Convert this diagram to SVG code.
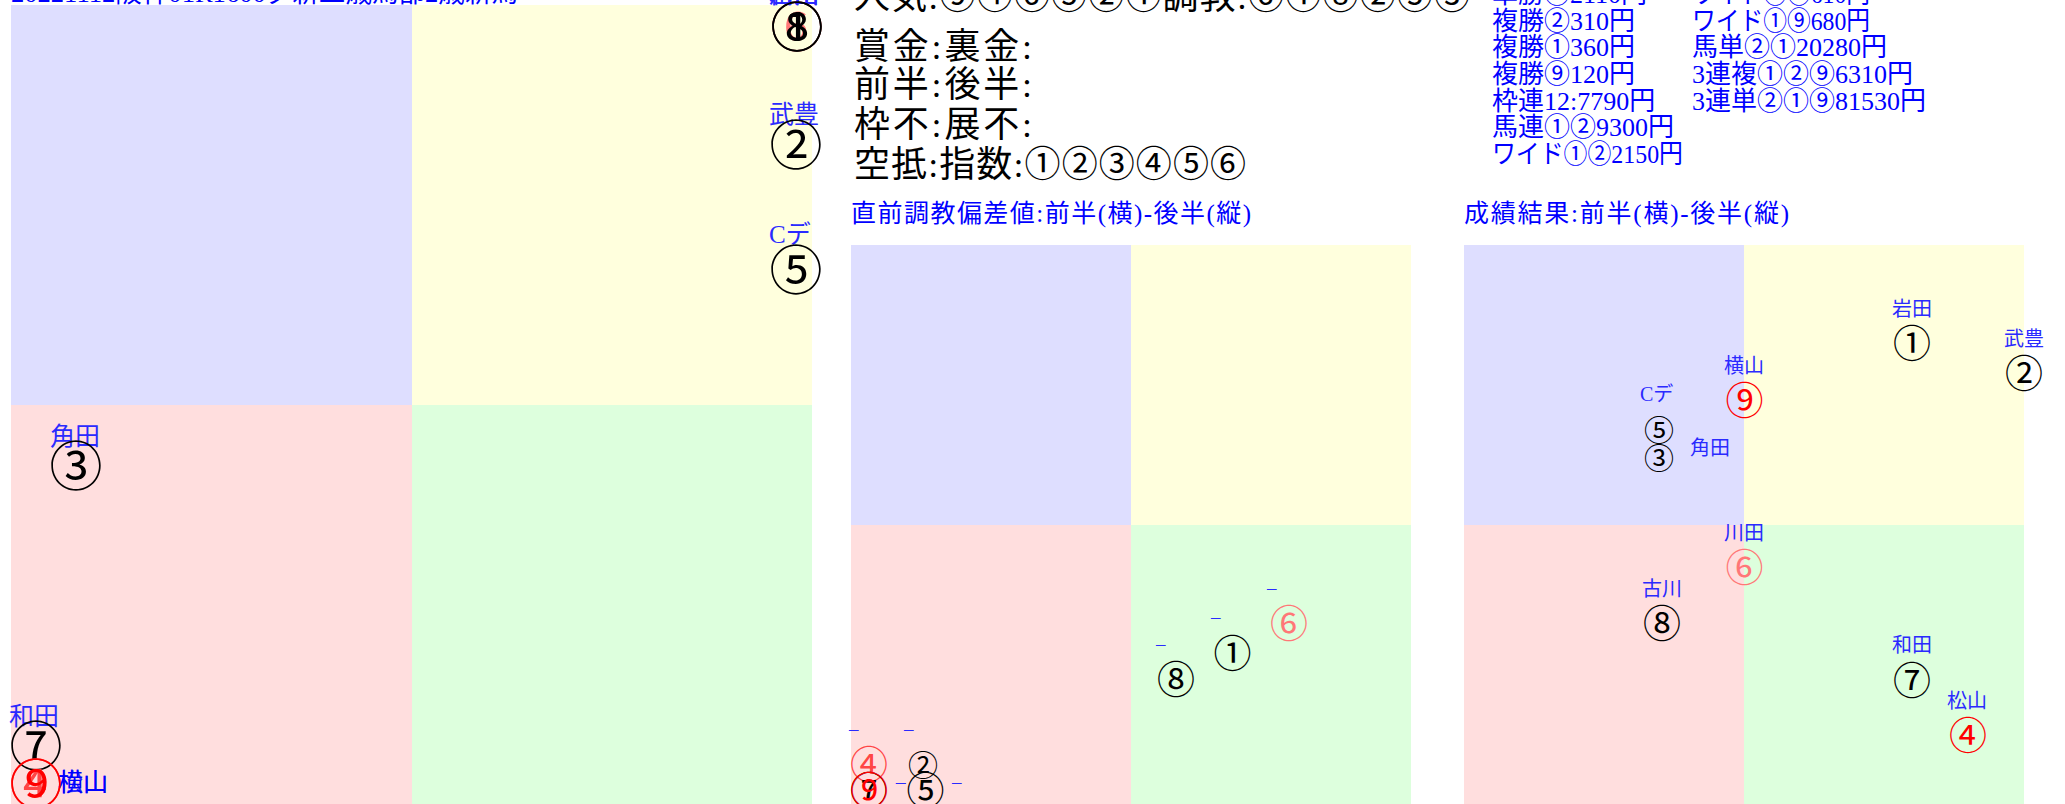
<svg xmlns="http://www.w3.org/2000/svg" width="2065" height="804" viewBox="0 0 2065 804">
<style>
.q1{fill:#dedeff}.q2{fill:#ffffdd}.q3{fill:#ffdede}.q4{fill:#ddffdd}
.t{font-family:"Liberation Serif","Noto Sans CJK JP",serif;fill:#0000ff}
.h{font-family:"Liberation Serif","Noto Sans CJK JP",serif;fill:#000;font-size:36px}
.n{font-family:"Noto Sans CJK JP",sans-serif;text-anchor:middle}
.big{font-size:53px}.mid{font-size:38px}.sm{font-size:30px}
.blk{fill:#000}.red{fill:#ff0000}.pk{fill:#ff4545}.sal{fill:#ff7777}
.lb{font-family:"Liberation Serif","Noto Sans CJK JP",serif;fill:#2a2aff}
.l25{font-size:25px}.l20{font-size:20px}.d{font-size:19px}
</style>
<rect width="2065" height="804" fill="#fff"/>
<g id="chart-left">
<rect class="q1" x="11" y="5" width="401" height="400"/>
<rect class="q2" x="412" y="5" width="400" height="400"/>
<rect class="q3" x="11" y="405" width="401" height="400"/>
<rect class="q4" x="412" y="405" width="400" height="400"/>
</g>
<g id="chart-mid">
<rect class="q1" x="851" y="245" width="280" height="280"/>
<rect class="q2" x="1131" y="245" width="280" height="280"/>
<rect class="q3" x="851" y="525" width="280" height="280"/>
<rect class="q4" x="1131" y="525" width="280" height="280"/>
</g>
<g id="chart-right">
<rect class="q1" x="1464" y="245" width="280" height="280"/>
<rect class="q2" x="1744" y="245" width="280" height="280"/>
<rect class="q3" x="1464" y="525" width="280" height="280"/>
<rect class="q4" x="1744" y="525" width="280" height="280"/>
</g>
<g id="texts">
<text class="t" x="11" y="2" font-size="26" textLength="507" lengthAdjust="spacingAndGlyphs">20221112阪神01R1600ダ新二歳馬部2歳新馬</text>
<text class="h" x="854" y="9" textLength="616" lengthAdjust="spacing">人気:⑨④⑥⑤②①調教:⑥①⑧②⑤③</text>
<text class="h" x="854" y="59" textLength="178" lengthAdjust="spacing">賞金:裏金:</text>
<text class="h" x="854" y="97" textLength="178" lengthAdjust="spacing">前半:後半:</text>
<text class="h" x="854" y="137" textLength="178" lengthAdjust="spacing">枠不:展不:</text>
<text class="h" x="854" y="177" textLength="392" lengthAdjust="spacing">空抵:指数:①②③④⑤⑥</text>
<g class="t" font-size="26">
<text x="1492" y="3">単勝②2110円</text>
<text x="1492" y="29.7">複勝②310円</text>
<text x="1492" y="56.3">複勝①360円</text>
<text x="1492" y="83">複勝⑨120円</text>
<text x="1492" y="109.7">枠連12:7790円</text>
<text x="1492" y="136.3">馬連①②9300円</text>
<text x="1492" y="163" textLength="191" lengthAdjust="spacingAndGlyphs">ワイド①②2150円</text>
<text x="1692" y="3" textLength="178" lengthAdjust="spacingAndGlyphs">ワイド②⑨610円</text>
<text x="1692" y="29.7" textLength="178" lengthAdjust="spacingAndGlyphs">ワイド①⑨680円</text>
<text x="1692" y="56.3">馬単②①20280円</text>
<text x="1692" y="83">3連複①②⑨6310円</text>
<text x="1692" y="109.7">3連単②①⑨81530円</text>
</g>
<text class="t" x="851" y="222" font-size="25" textLength="400" lengthAdjust="spacing">直前調教偏差値:前半(横)-後半(縦)</text>
<text class="t" x="1464" y="222" font-size="25" textLength="325" lengthAdjust="spacing">成績結果:前半(横)-後半(縦)</text>
</g>
<g id="connectors"/>
<g id="left-nodes">
<g id="L6"><text class="lb l25" x="769" y="3">川田</text><text class="n big sal" x="797" y="47">⑥</text></g>
<g id="L1"><text class="lb l25" x="769" y="3">岩田</text><text class="n big blk" x="797" y="47">①</text></g>
<g id="L8"><text class="lb l25" x="769" y="3">古川</text><text class="n big blk" x="797" y="47">⑧</text></g>
<g id="L2"><text class="lb l25" x="769" y="123">武豊</text><text class="n big blk" x="796" y="165">②</text></g>
<g id="L5"><text class="lb l25" x="769" y="243">Cデ</text><text class="n big blk" x="796" y="290">⑤</text></g>
<g id="L3"><text class="lb l25" x="50" y="445">角田</text><text class="n big blk" x="76" y="486">③</text></g>
<g id="L7"><text class="lb l25" x="9" y="725">和田</text><text class="n big blk" x="36" y="766">⑦</text></g>
<g id="L4"><text class="lb l25" x="58" y="791">松山</text><text class="n big pk" x="36" y="804">④</text></g>
<g id="L9"><text class="lb l25" x="58" y="791" style="fill:#0000ff">横山</text><text class="n big red" x="36" y="804">⑨</text></g>
</g>
<g id="mid-nodes">
<g id="M4"><text class="lb d" x="849" y="735">–</text><text class="n mid pk" x="869" y="778">④</text></g>
<g id="M2"><text class="lb d" x="904" y="735">–</text><text class="n sm blk" x="923" y="776">②</text></g>
<g id="M7"><text class="lb d" x="896" y="788">–</text><text class="n mid blk" x="869" y="804">⑦</text></g>
<g id="M9"><text class="lb d" x="896" y="788">–</text><text class="n mid red" x="869" y="804">⑨</text></g>
<g id="M5"><text class="lb d" x="952" y="788">–</text><text class="n mid blk" x="925.5" y="804">⑤</text></g>
<g id="M8"><text class="lb d" x="1156" y="650">–</text><text class="n mid blk" x="1176" y="693">⑧</text></g>
<g id="M1"><text class="lb d" x="1211" y="623">–</text><text class="n mid blk" x="1232.5" y="667">①</text></g>
<g id="M6"><text class="lb d" x="1267" y="594">–</text><text class="n mid sal" x="1289" y="637">⑥</text></g>
</g>
<g id="right-nodes">
<g id="R1"><text class="lb l20" x="1892" y="316">岩田</text><text class="n mid blk" x="1912" y="357">①</text></g>
<g id="R2"><text class="lb l20" x="2004" y="346">武豊</text><text class="n mid blk" x="2024" y="387">②</text></g>
<g id="R9"><text class="lb l20" x="1724" y="373">横山</text><text class="n mid red" x="1744.5" y="414">⑨</text></g>
<g id="R5"><text class="lb l20" x="1640" y="401">Cデ</text><text class="n sm blk" x="1659" y="441">⑤</text></g>
<g id="R3"><text class="lb l20" x="1690" y="455">角田</text><text class="n sm blk" x="1659" y="469">③</text></g>
<g id="R6"><text class="lb l20" x="1724" y="540">川田</text><text class="n mid sal" x="1744.5" y="581">⑥</text></g>
<g id="R8"><text class="lb l20" x="1642" y="596">古川</text><text class="n mid blk" x="1662" y="637">⑧</text></g>
<g id="R7"><text class="lb l20" x="1892" y="652">和田</text><text class="n mid blk" x="1912" y="694">⑦</text></g>
<g id="R4"><text class="lb l20" x="1947" y="708">松山</text><text class="n mid red" x="1968" y="749">④</text></g>
</g>
</svg>
